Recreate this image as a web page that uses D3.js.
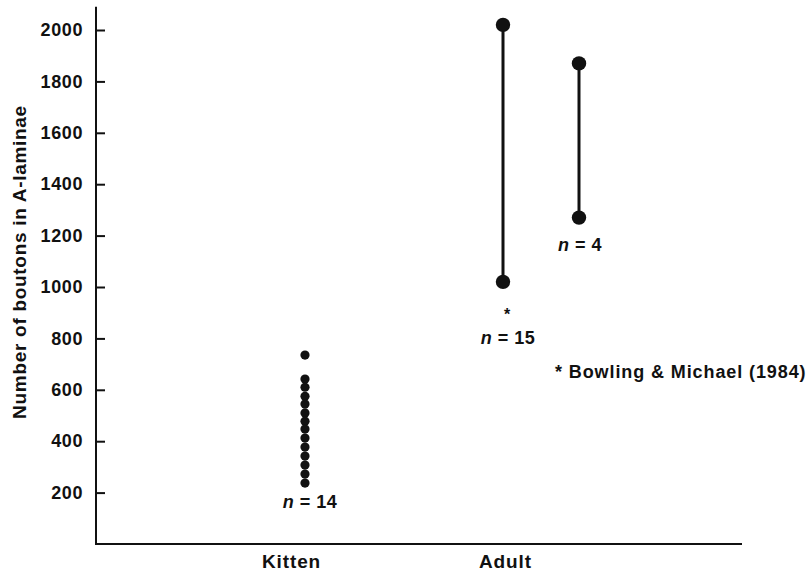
<!DOCTYPE html>
<html>
<head>
<meta charset="utf-8">
<script src="https://cdn.jsdelivr.net/npm/d3@7"></script>
<style>
  body { margin: 0; background: #fff; }
  text { font-family: "Liberation Sans", Arial, sans-serif; font-weight: bold; fill: #111; }
</style>
</head>
<body>
<svg id="chart" width="809" height="573"></svg>
<script>
const categories = ["Kitten", "Adult"];
const yTicks = [200, 400, 600, 800, 1000, 1200, 1400, 1600, 1800, 2000];

// kitten individual values (n = 14)
const kittenValues = [735, 642, 610, 575, 545, 510, 478, 447, 412, 377, 342, 307, 272, 237];

// adult ranges
const adultLow = [1020, 1270];
const adultHigh = [2020, 1870];
const adultN = [15, 4];
const adultNote = ["*", ""];

const footnote = "* Bowling & Michael (1984)";
const yLabel = "Number of boutons in A-laminae";

const svg = d3.select("#chart");
const ink = "#111";

const y = d3.scaleLinear().domain([0, 2000]).range([544, 30]);
const x = d3.scalePoint().domain(categories).range([291, 505]);
const axisX = 96, axisRight = 742;

// axes
svg.append("line")
  .attr("x1", axisX).attr("x2", axisX)
  .attr("y1", y(0)).attr("y2", y(2090))
  .attr("stroke", ink).attr("stroke-width", 2);

svg.append("line")
  .attr("x1", axisX - 1).attr("x2", axisRight)
  .attr("y1", y(0)).attr("y2", y(0))
  .attr("stroke", ink).attr("stroke-width", 2);

const yAxis = svg.append("g")
  .attr("transform", `translate(${axisX},0)`)
  .call(d3.axisLeft(y).tickValues(yTicks).tickFormat(d3.format("d"))
    .tickSizeInner(-9).tickSizeOuter(0).tickPadding(13));
yAxis.select(".domain").remove();
yAxis.selectAll(".tick line").attr("stroke", ink).attr("stroke-width", 2);
yAxis.selectAll(".tick text")
  .style("font-size", "18px")
  .style("font-family", "Liberation Sans, Arial, sans-serif")
  .style("font-weight", "bold")
  .style("letter-spacing", "0.6px")
  .attr("fill", ink);

const xAxis = svg.append("g")
  .attr("transform", `translate(0,${y(0)})`)
  .call(d3.axisBottom(x).tickSize(0).tickPadding(11));
xAxis.select(".domain").remove();
xAxis.selectAll(".tick text")
  .style("font-size", "19px")
  .style("font-family", "Liberation Sans, Arial, sans-serif")
  .style("font-weight", "bold")
  .style("letter-spacing", "0.9px")
  .attr("fill", ink);

svg.append("text")
  .attr("transform", `translate(26,${262}) rotate(-90)`)
  .attr("text-anchor", "middle")
  .style("font-size", "19px")
  .style("letter-spacing", "0.7px")
  .text(yLabel);

// kitten dots
const kx = x("Kitten") + 14;
svg.selectAll(".kitten")
  .data(kittenValues)
  .join("circle")
  .attr("cx", kx)
  .attr("cy", d => y(d))
  .attr("r", 4.6)
  .attr("fill", ink);

function nLabel(cx, cy, n) {
  const t = svg.append("text")
    .attr("x", cx).attr("y", cy)
    .attr("text-anchor", "middle")
    .style("font-size", "18px")
    .style("letter-spacing", "0.5px");
  t.append("tspan").style("font-style", "italic").text("n");
  t.append("tspan").text(" = " + n);
}

nLabel(kx + 5, 508, kittenValues.length);

// adult ranges
const adultX = [x("Adult") - 2, x("Adult") + 74];
adultLow.forEach((lo, i) => {
  const cx = adultX[i];
  svg.append("line")
    .attr("x1", cx).attr("x2", cx)
    .attr("y1", y(lo)).attr("y2", y(adultHigh[i]))
    .attr("stroke", ink).attr("stroke-width", 3);
  [lo, adultHigh[i]].forEach(v => {
    svg.append("circle")
      .attr("cx", cx).attr("cy", y(v))
      .attr("r", 7.2)
      .attr("fill", ink);
  });
  if (adultNote[i]) {
    svg.append("text")
      .attr("x", cx + 4).attr("y", y(lo) + 38)
      .attr("text-anchor", "middle")
      .style("font-size", "16px")
      .text(adultNote[i]);
  }
  nLabel(cx + (i === 0 ? 5 : 1), y(lo) + (i === 0 ? 62 : 33), adultN[i]);
});

svg.append("text")
  .attr("x", 555).attr("y", 378)
  .style("font-size", "18px")
  .style("letter-spacing", "0.9px")
  .text(footnote);
</script>
</body>
</html>
